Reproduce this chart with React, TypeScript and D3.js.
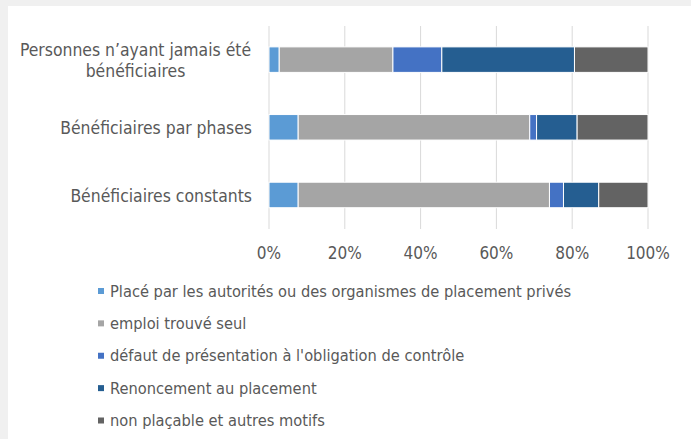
import React from "react";
import * as d3 from "d3";

const categories = [
  ["Personnes n’ayant jamais été", "bénéficiaires"],
  ["Bénéficiaires par phases"],
  ["Bénéficiaires constants"],
];
const seriesNames = [
  "Placé par les autorités ou des organismes de placement privés",
  "emploi trouvé seul",
  "défaut de présentation à l'obligation de contrôle",
  "Renoncement au placement",
  "non plaçable et autres motifs",
];
const placeAutorites = [2.7, 7.7, 7.7];
const emploiSeul = [30.0, 61.1, 66.3];
const defautPresentation = [12.9, 1.8, 3.7];
const renoncement = [35.0, 10.7, 9.3];
const nonPlacable = [19.4, 18.7, 13.0];
const tickValues = [0, 0.2, 0.4, 0.6, 0.8, 1];

const colors = ["#5b9bd5", "#a5a5a5", "#4472c4", "#255e91", "#636363"];
const W = 691;
const H = 439;
const FONT = "'DejaVu Sans Condensed', 'DejaVu Sans', sans-serif";
const TXT = "#595959";

export default function App() {
  const values = [placeAutorites, emploiSeul, defautPresentation, renoncement, nonPlacable];
  const rows = categories.map((c, i) => {
    const o: any = { idx: i };
    values.forEach((v, s) => (o["s" + s] = v[i]));
    return o;
  });
  const keys = values.map((_, s) => "s" + s);
  const stacked = d3.stack().keys(keys).offset(d3.stackOffsetExpand)(rows);

  const x = d3.scaleLinear().domain([0, 1]).range([269, 648]);
  const y = d3
    .scaleBand<number>()
    .domain(categories.map((_, i) => i))
    .range([25.8, 228.8])
    .paddingInner(0.623)
    .paddingOuter(0.3115);

  const legendY = d3.scaleLinear().domain([0, 4]).range([291, 420.5]);

  return (
    <svg
      width={W}
      height={H}
      style={{ position: "absolute", left: 0, top: 0, fontFamily: FONT }}
    >
      <rect x={0} y={0} width={W} height={H} fill="#f0f0f0" />
      <rect x={8} y={6} width={W - 8} height={H - 6} fill="#ffffff" />
      {tickValues.map((t) => (
        <line
          key={t}
          x1={x(t)}
          x2={x(t)}
          y1={26}
          y2={229}
          stroke="#d9d9d9"
          strokeWidth={1}
        />
      ))}
      {stacked.map((layer, s) =>
        layer.map((d, i) => (
          <rect
            key={s + "-" + i}
            x={x(d[0])}
            width={Math.max(0, x(d[1]) - x(d[0]))}
            y={y(i)}
            height={y.bandwidth()}
            fill={colors[s]}
            stroke="#ffffff"
            strokeWidth={1}
          />
        ))
      )}
      {categories.map((lines, i) => {
        const cy = (y(i) as number) + y.bandwidth() / 2 + 1;
        const lh = 21.5;
        const start = cy - ((lines.length - 1) * lh) / 2;
        return (
          <text key={i} fontSize={17.4} fill={TXT}>
            {lines.map((l, j) => (
              <tspan
                key={j}
                x={lines.length > 1 ? 135.5 : 252}
                textAnchor={lines.length > 1 ? "middle" : "end"}
                y={start + j * lh}
                dy="0.35em"
              >
                {l}
              </tspan>
            ))}
          </text>
        );
      })}
      {tickValues.map((t) => (
        <text
          key={t}
          x={x(t)}
          y={253}
          dy="0.35em"
          textAnchor="middle"
          fontSize={17}
          fill={TXT}
        >
          {d3.format(".0%")(t)}
        </text>
      ))}
      {seriesNames.map((n, s) => (
        <g key={s}>
          <rect x={98} y={legendY(s) - 3} width={6} height={6} fill={colors[s]} />
          <text x={110} y={legendY(s)} dy="0.35em" fontSize={16.3} fill={TXT}>
            {n}
          </text>
        </g>
      ))}
    </svg>
  );
}
